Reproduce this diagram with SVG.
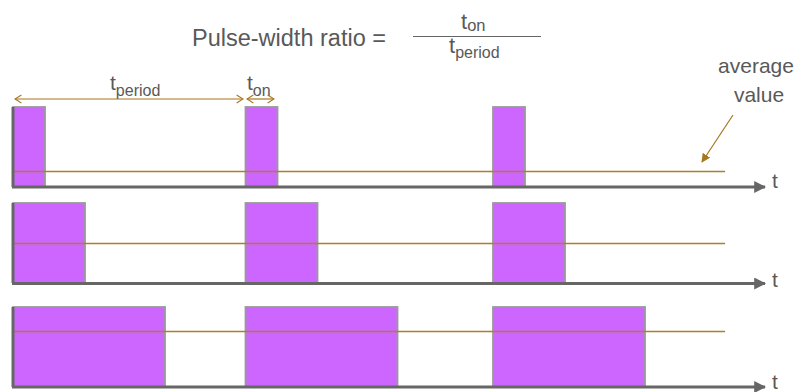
<svg xmlns="http://www.w3.org/2000/svg" width="806" height="392" viewBox="0 0 806 392">
<defs>
<style>
.txt{font-family:"Liberation Sans",Arial,sans-serif;fill:#595959}
.pulse{fill:#CC66FF;stroke:#999999;stroke-width:1.8}
.axis{stroke:#666666;stroke-width:3;fill:none}
.avg{stroke:#B07D2B;stroke-width:1.3;fill:none}
.dim{stroke:#A8761F;stroke-width:1.2;fill:none}
</style>
<marker id="axarrow" viewBox="0 0 10 10" refX="9" refY="5" markerWidth="4" markerHeight="4" orient="auto" markerUnits="strokeWidth">
<path d="M0,0 L10,5 L0,10 z" fill="#666666"/>
</marker>
<marker id="chev" viewBox="0 0 10 12" refX="9" refY="6" markerWidth="8" markerHeight="10" orient="auto-start-reverse" markerUnits="userSpaceOnUse">
<path d="M1,1 L9,6 L1,11" fill="none" stroke="#A8761F" stroke-width="1.3"/>
</marker>
<marker id="solid" viewBox="0 0 10 10" refX="9" refY="5" markerWidth="9" markerHeight="9" orient="auto" markerUnits="userSpaceOnUse">
<path d="M0,0 L10,5 L0,10 z" fill="#A8761F"/>
</marker>
</defs>
<rect width="806" height="392" fill="#ffffff"/>

<g id="title">
<text class="txt" x="192" y="46" font-size="23.5">Pulse-width ratio =</text>
</g>
<g id="fraction">
<text class="txt" x="461" y="29" font-size="22">t<tspan font-size="16.5" dy="2">on</tspan></text>
<line x1="413" y1="36.5" x2="541" y2="36.5" stroke="#666666" stroke-width="1"/>
<text class="txt" x="449" y="53" font-size="22">t<tspan font-size="16" dy="5">period</tspan></text>
</g>
<g id="label-period">
<text class="txt" x="110" y="90" font-size="21">t<tspan font-size="16" dy="6">period</tspan></text>
</g>
<g id="label-on">
<text class="txt" x="247" y="90" font-size="21">t<tspan font-size="16" dy="6">on</tspan></text>
</g>
<g id="label-average">
<text class="txt" x="756" y="73" font-size="21" text-anchor="middle">average</text>
<text class="txt" x="759" y="102" font-size="21" text-anchor="middle">value</text>
</g>

<g id="row1">
<rect class="pulse" x="13" y="107" width="32" height="80"/>
<rect class="pulse" x="245.5" y="107" width="32" height="80"/>
<rect class="pulse" x="493" y="107" width="32" height="80"/>
<line class="avg" x1="13" y1="171.5" x2="725" y2="171.5"/>
<line class="axis" x1="13" y1="107" x2="13" y2="187"/>
<line class="axis" x1="12" y1="187" x2="765" y2="187" marker-end="url(#axarrow)"/>
<text class="txt" x="772" y="188" font-size="21">t</text>
</g>
<g id="row2">
<rect class="pulse" x="13" y="203" width="72" height="80"/>
<rect class="pulse" x="245.5" y="203" width="72" height="80"/>
<rect class="pulse" x="493" y="203" width="72" height="80"/>
<line class="avg" x1="13" y1="243.5" x2="725" y2="243.5"/>
<line class="axis" x1="13" y1="203" x2="13" y2="283"/>
<line class="axis" x1="12" y1="283.5" x2="765" y2="283.5" marker-end="url(#axarrow)"/>
<text class="txt" x="772" y="287" font-size="21">t</text>
</g>
<g id="row3">
<rect class="pulse" x="13" y="307" width="152" height="80"/>
<rect class="pulse" x="245.5" y="307" width="152" height="80"/>
<rect class="pulse" x="493" y="307" width="152" height="80"/>
<line class="avg" x1="13" y1="331.5" x2="725" y2="331.5"/>
<line class="axis" x1="13" y1="307" x2="13" y2="387"/>
<line class="axis" x1="12" y1="387" x2="765" y2="387" marker-end="url(#axarrow)"/>
<text class="txt" x="772" y="389" font-size="21">t</text>
</g>

<g id="connectors">
<line class="dim" x1="15" y1="99" x2="243" y2="99" marker-start="url(#chev)" marker-end="url(#chev)"/>
<line class="dim" x1="247" y1="99" x2="274" y2="99" marker-start="url(#chev)" marker-end="url(#chev)"/>
<line class="dim" x1="733" y1="115" x2="702" y2="162" marker-end="url(#solid)"/>
</g>
</svg>
